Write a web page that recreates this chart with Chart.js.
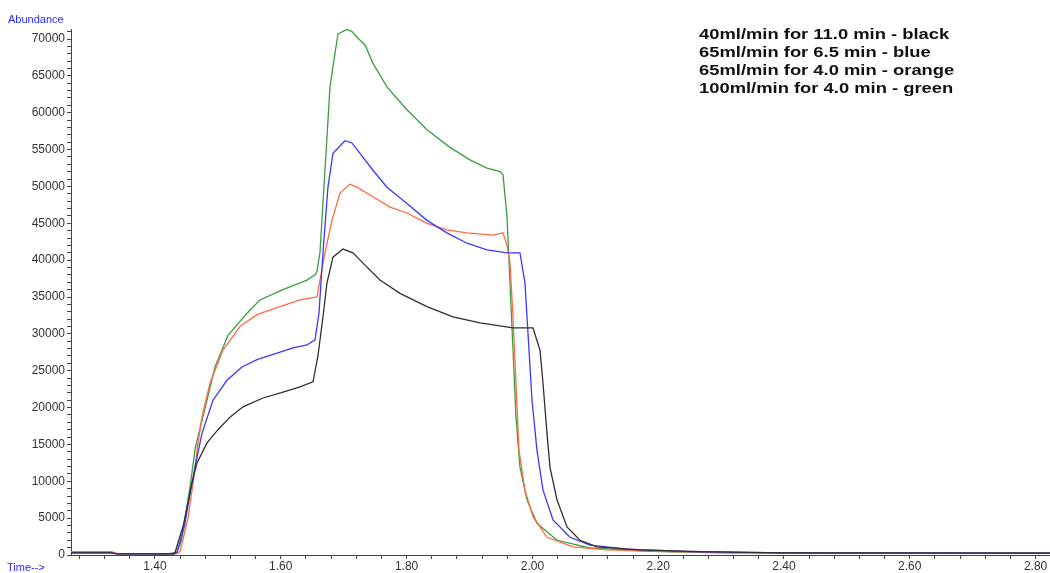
<!DOCTYPE html>
<html>
<head>
<meta charset="utf-8">
<script src="https://cdn.jsdelivr.net/npm/chart.js@4"></script>
<style>
  body { margin: 0; background: #fff; }
  #wrap { position: relative; width: 1050px; height: 573px; overflow: hidden; }
  .axisName { position: absolute; color: #2a2aff; font: 11px "Liberation Sans", Arial, sans-serif; }
  #note { position: absolute; left: 699px; top: 25px; font: bold 15px/18px "Liberation Sans", Arial, sans-serif;
          color: #111; transform: scaleX(1.225); transform-origin: 0 0; white-space: nowrap; }
</style>
</head>
<body>
<div id="wrap">
  <canvas id="chromChart" width="1050" height="573"></canvas>
  <div class="axisName" style="left:8px; top:13px;">Abundance</div>
  <div class="axisName" style="left:7px; top:561px;">Time--&gt;</div>
  <div id="note">
    <div>40ml/min for 11.0 min - black</div>
    <div>65ml/min for 6.5 min - blue</div>
    <div>65ml/min for 4.0 min - orange</div>
    <div>100ml/min for 4.0 min - green</div>
  </div>
</div>
<script>
// chromatogram traces (time in min, abundance)

const blackTime = [1.2665, 1.330, 1.340, 1.430, 1.4318, 1.445, 1.4588, 1.4668, 1.4827, 1.5002, 1.5192, 1.5399, 1.5717, 1.6035, 1.6305, 1.6512, 1.6591, 1.6671, 1.6734, 1.6830, 1.6989, 1.7148, 1.7307, 1.7577, 1.7895, 1.8324, 1.8738, 1.9167, 1.9692, 2.0010, 2.0121, 2.0169, 2.0232, 2.0280, 2.0391, 2.0550, 2.0757, 2.1027, 2.170, 2.270, 2.400, 2.823];
const blackAbund = [300, 300, 150, 150, 300, 4000, 9770, 12500, 15200, 17000, 18700, 20100, 21300, 22100, 22800, 23500, 27000, 32300, 36900, 40400, 41500, 41000, 39600, 37300, 35500, 33700, 32300, 31500, 30800, 30800, 27800, 23300, 16500, 11900, 7500, 3800, 2000, 1100, 700, 450, 300, 250];

const blueTime = [1.2665, 1.330, 1.340, 1.430, 1.435, 1.447, 1.455, 1.4636, 1.4747, 1.4922, 1.5145, 1.5383, 1.5622, 1.5940, 1.6194, 1.6416, 1.6544, 1.6607, 1.6671, 1.6750, 1.6830, 1.7021, 1.7132, 1.7259, 1.7466, 1.7688, 1.8006, 1.8324, 1.8642, 1.8960, 1.9278, 1.9596, 1.9803, 1.9882, 1.9930, 1.9994, 2.0073, 2.0169, 2.0328, 2.0598, 2.0916, 2.150, 2.250, 2.400, 2.823];
const blueAbund = [300, 300, 150, 150, 300, 4000, 8000, 11900, 16500, 21000, 23700, 25500, 26500, 27400, 28100, 28500, 29200, 32800, 41000, 49900, 54500, 56200, 55900, 54500, 52200, 49900, 47700, 45400, 43700, 42300, 41400, 41000, 41000, 36900, 30100, 21000, 14200, 8800, 4750, 2400, 1350, 800, 450, 300, 250];

const orangeTime = [1.2665, 1.330, 1.340, 1.430, 1.437, 1.440, 1.4525, 1.461, 1.468, 1.4747, 1.4874, 1.5081, 1.5351, 1.5622, 1.5987, 1.6305, 1.6576, 1.6607, 1.6703, 1.6814, 1.6941, 1.7100, 1.7211, 1.7466, 1.7736, 1.8006, 1.8324, 1.8642, 1.8960, 1.9374, 1.9533, 1.9596, 1.9644, 1.9692, 1.9739, 1.9787, 1.9882, 2.0010, 2.0232, 2.0645, 2.120, 2.220, 2.350, 2.823];
const orangeAbund = [450, 450, 200, 150, 300, 500, 5000, 10000, 15000, 18700, 23300, 27800, 31000, 32600, 33700, 34600, 35000, 36500, 41000, 45400, 49100, 50300, 49900, 48600, 47200, 46400, 45000, 44100, 43700, 43400, 43700, 42000, 39600, 32300, 23300, 14200, 8800, 5200, 2400, 1100, 700, 450, 300, 250];

const greenTime = [1.2665, 1.330, 1.340, 1.420, 1.435, 1.442, 1.448, 1.457, 1.464, 1.4827, 1.4954, 1.5161, 1.5463, 1.5669, 1.6035, 1.6416, 1.6544, 1.6576, 1.6623, 1.6719, 1.6782, 1.6862, 1.691, 1.7052, 1.7132, 1.7227, 1.7339, 1.7466, 1.7688, 1.8006, 1.8324, 1.8690, 1.9008, 1.9278, 1.9485, 1.9533, 1.9596, 1.9644, 1.9692, 1.9739, 1.9803, 1.9914, 2.0073, 2.0391, 2.0916, 2.187, 2.300, 2.500, 2.823];
const greenAbund = [350, 350, 180, 150, 400, 2000, 5000, 10000, 14500, 21000, 25500, 29800, 32800, 34600, 36000, 37300, 38000, 38500, 41000, 54500, 63500, 68100, 70700, 71300, 71000, 70100, 69200, 66700, 63500, 60400, 57700, 55300, 53600, 52500, 52000, 51600, 45900, 36900, 27800, 18700, 11900, 7500, 4300, 2000, 950, 500, 300, 250, 250];

// axis ticks
const xMajorTicks = ['1.40', '1.60', '1.80', '2.00', '2.20', '2.40', '2.60', '2.80'];
const yMajorTicks = [0, 5000, 10000, 15000, 20000, 25000, 30000, 35000, 40000, 45000, 50000, 55000, 60000, 65000, 70000];

const xMin = 1.2665, xMax = 2.8229;
const yMin = 0, yMax = 71360;

function pts(t, v) {
    return t.map((x, i) => ({ x: x, y: v[i] }));
}

function series(label, t, v, color) {
    return {
        label: label,
        data: pts(t, v),
        borderColor: color,
        borderWidth: 1.3,
        pointRadius: 0,
        tension: 0,
        fill: false
    };
}

const axisColor = '#444';
const tickFont = { family: '"Liberation Sans", Arial, sans-serif', size: 12 };

const ctx = document.getElementById('chromChart').getContext('2d');
const chromChart = new Chart(ctx, {
    type: 'line',
    data: {
        datasets: [
            series('black', blackTime, blackAbund, '#303030'),
            series('blue', blueTime, blueAbund, '#3838ff'),
            series('orange', orangeTime, orangeAbund, '#ff6a45'),
            series('green', greenTime, greenAbund, '#3a9e3e')
        ]
    },
    options: {
        responsive: false,
        animation: false,
        layout: { padding: { top: 29, left: 0, right: 0, bottom: 0 } },
        plugins: { legend: { display: false }, tooltip: { enabled: false } },
        scales: {
            x: {
                type: 'linear',
                min: xMin,
                max: xMax,
                afterBuildTicks: (scale) => {
                    const ticks = [];
                    for (let k = 32; k <= 70; k++) ticks.push({ value: k * 0.04 });
                    scale.ticks = ticks;
                },
                afterFit: (scale) => { scale.height = 18; },
                ticks: {
                    autoSkip: false,
                    maxRotation: 0,
                    padding: 0,
                    color: '#333',
                    font: tickFont,
                    callback: (v) => {
                        const s = Number(v).toFixed(2);
                        return xMajorTicks.includes(s) ? s : '';
                    }
                },
                grid: { drawOnChartArea: false, tickLength: 4, tickColor: axisColor },
                border: { color: axisColor, width: 1 }
            },
            y: {
                min: yMin,
                max: yMax,
                afterBuildTicks: (scale) => {
                    const ticks = [];
                    for (let v = 0; v <= 71000; v += 1000) ticks.push({ value: v });
                    scale.ticks = ticks;
                },
                afterFit: (scale) => { scale.width = 71; },
                ticks: {
                    autoSkip: false,
                    padding: 2,
                    color: '#333',
                    font: tickFont,
                    callback: (v) => yMajorTicks.includes(v) ? String(v) : ''
                },
                grid: { drawOnChartArea: false, tickLength: 4, tickColor: axisColor },
                border: { color: axisColor, width: 1 }
            }
        }
    }
});
</script>
</body>
</html>
